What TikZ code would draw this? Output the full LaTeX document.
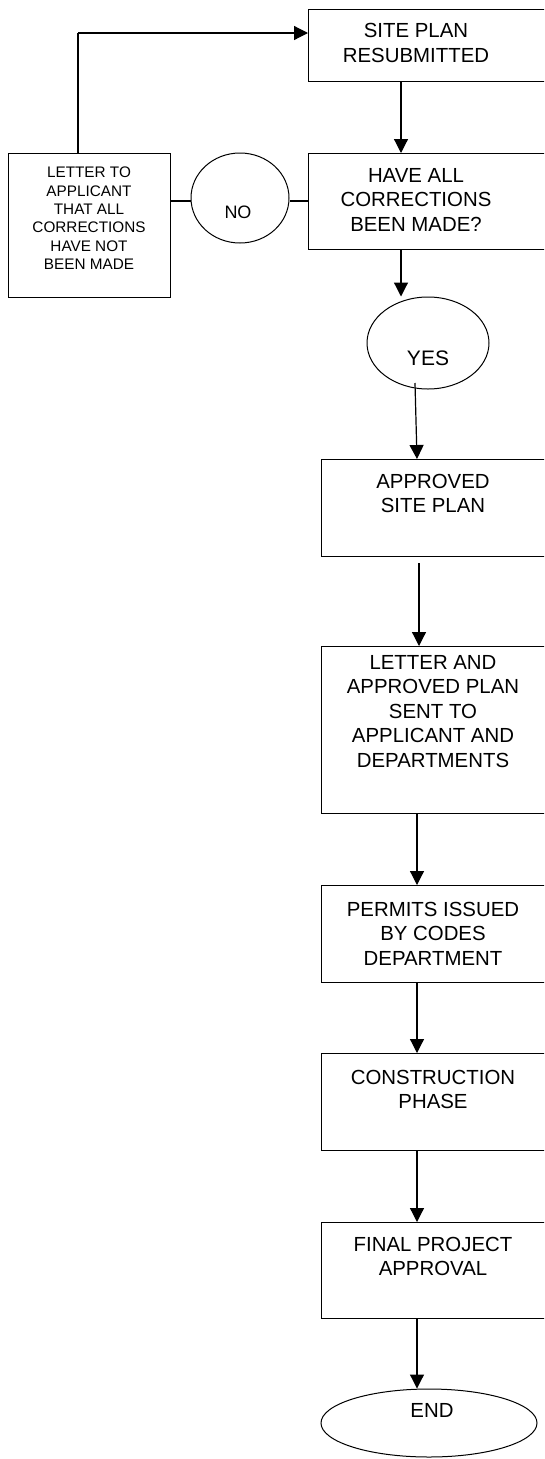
\documentclass[tikz,border=0pt]{standalone}
\usepackage{fontspec}
\setmainfont{Liberation Sans}
\usetikzlibrary{arrows.meta,shapes.geometric}
\tikzset{
  box/.style={draw, line width=1.4pt, rectangle, anchor=north west, inner sep=0pt, minimum width=250pt},
  txt/.style={anchor=north, align=center, inner sep=0pt, font=\fontsize{20.4}{24.5}\selectfont},
  oval/.style={draw, line width=1pt, ellipse, inner sep=0pt},
  arr/.style={line width=1.2pt, -{Triangle[length=14pt,width=14pt]}},
  ln/.style={line width=1.2pt}
}
\begin{document}
\begin{tikzpicture}[x=1pt,y=-1pt]
\useasboundingbox (0,0) rectangle (544,1459);
\clip (0,0) rectangle (544,1459);
% boxes
\node[box, minimum height=72pt] (site) at (308,9) {};
\node[box, minimum height=96pt] (have) at (308,153) {};
\node[box, minimum width=162pt, minimum height=144pt] (letter) at (8,153) {};
\node[box, minimum height=97pt] (approved) at (321,459) {};
\node[box, minimum height=167pt] (sent) at (321,646) {};
\node[box, minimum height=97pt] (permits) at (321,885) {};
\node[box, minimum height=97pt] (construction) at (321,1053) {};
\node[box, minimum height=96pt] (final) at (321,1222) {};
% ovals
\node[oval, minimum width=98pt, minimum height=90pt] (no) at (240,198) {};
\node[oval, minimum width=122pt, minimum height=92pt] (yes) at (428,343) {};
\node[oval, minimum width=216pt, minimum height=68pt] (end) at (429,1423) {};
% texts
\node[txt] (siteT) at (416,23.3) {SITE PLAN\\RESUBMITTED};
\node[txt] (haveT) at (416,168) {HAVE ALL\\CORRECTIONS\\BEEN MADE?};
\node[txt, font=\fontsize{15.3}{18.3}\selectfont] (letterT) at (89,167) {LETTER TO\\APPLICANT\\THAT ALL\\CORRECTIONS\\HAVE NOT\\BEEN MADE};
\node[inner sep=0pt, font=\fontsize{18}{20}\selectfont] (noT) at (238,212.5) {NO};
\node[inner sep=0pt, font=\fontsize{21}{24}\selectfont] (yesT) at (428,358) {YES};
\node[txt] (approvedT) at (433,474) {APPROVED\\SITE PLAN};
\node[txt] (sentT) at (433,655) {LETTER AND\\APPROVED PLAN\\SENT TO\\APPLICANT AND\\DEPARTMENTS};
\node[txt] (permitsT) at (433,902) {PERMITS ISSUED\\BY CODES\\DEPARTMENT};
\node[txt] (constructionT) at (433,1070) {CONSTRUCTION\\PHASE};
\node[txt] (finalT) at (433,1237) {FINAL PROJECT\\APPROVAL};
\node[inner sep=0pt, font=\fontsize{20.4}{24}\selectfont] (endT) at (432,1410.5) {END};
% coordinates
\coordinate (loopTop) at (78,33);
\coordinate (yesOut) at (415,383);
\coordinate (apprOut) at (419,563);
% connectors
\draw[arr] ([xshift=93pt]site.south west) -- ([xshift=93pt]have.north west);
\draw[arr] ([xshift=93pt]have.south west) -- ([xshift=93pt]have.south west |- yes.north);
\draw[ln] ([yshift=-48pt]letter.north east) -- ([yshift=-48pt]letter.north east -| no.west);
\draw[ln] ([yshift=-48pt]have.north west -| no.east) -- ([yshift=-48pt]have.north west);
\draw[ln] ([xshift=70pt]letter.north west) -- (loopTop);
\draw[arr] (loopTop) -- ([yshift=-24pt]site.north west);
\draw[arr] (yesOut) -- ([xshift=96pt]approved.north west);
\draw[arr] (apprOut) -- ([xshift=98pt]sent.north west);
\draw[arr] ([xshift=96pt]sent.south west) -- ([xshift=96pt]permits.north west);
\draw[arr] ([xshift=96pt]permits.south west) -- ([xshift=96pt]construction.north west);
\draw[arr] ([xshift=96pt]construction.south west) -- ([xshift=96pt]final.north west);
\draw[arr] ([xshift=96pt]final.south west) -- ([xshift=96pt]final.south west |- end.north);
\end{tikzpicture}
\end{document}
